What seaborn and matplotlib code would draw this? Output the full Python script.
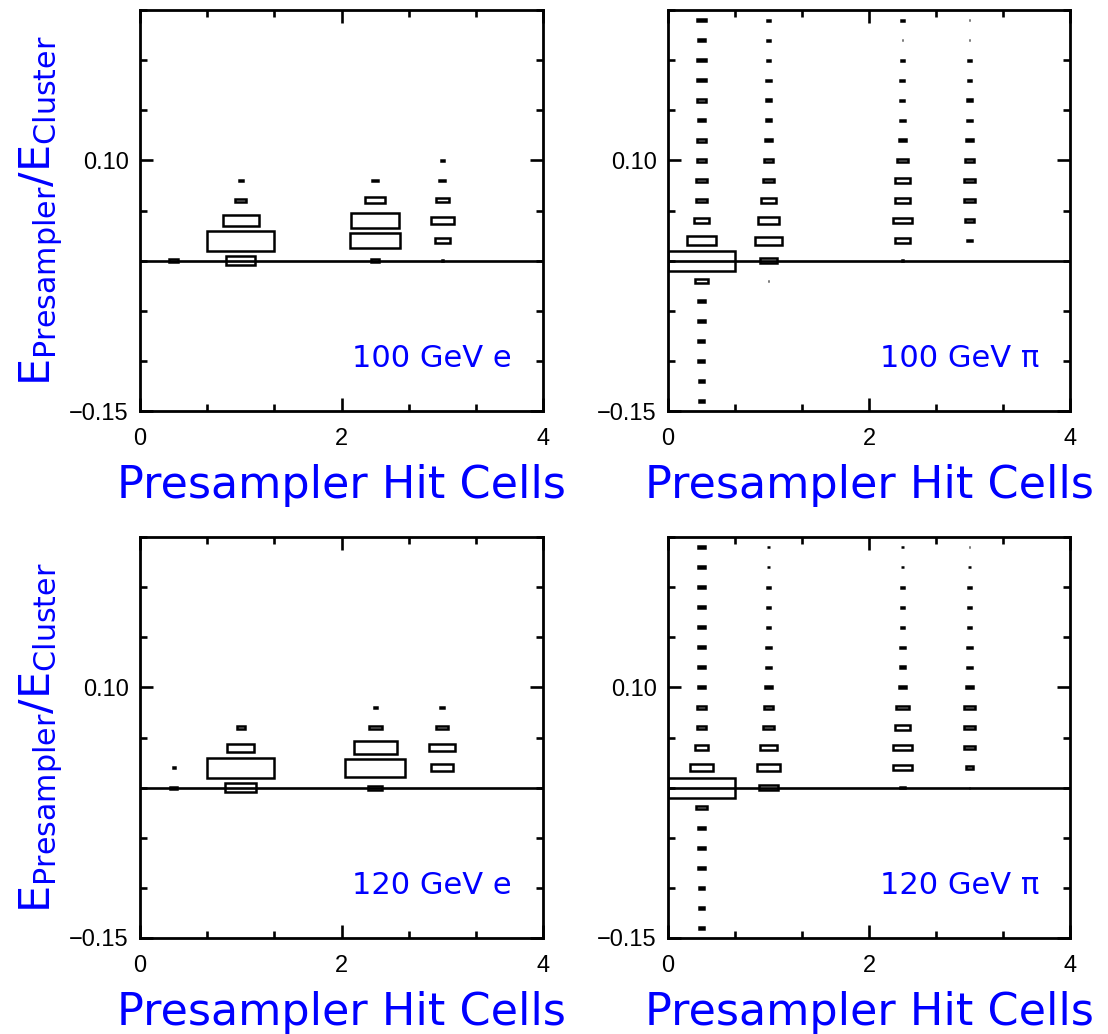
import numpy as np
import pandas as pd
import matplotlib
matplotlib.use("Agg")
import matplotlib.pyplot as plt
from matplotlib.ticker import FixedLocator, MultipleLocator
import seaborn as sns

# ---------------- data ----------------
# bin centres (y: E_presampler/E_cluster, x: presampler hit cells)
y_bins = [0.24, 0.22, 0.20, 0.18, 0.16, 0.14, 0.12, 0.10, 0.08, 0.06,
          0.04, 0.02, 0.00, -0.02, -0.04, -0.06, -0.08, -0.10, -0.12, -0.14]
x_cols = [0.333, 1.0, 2.333, 3.0]
x_tick_labels = ["0", "2", "4"]
y_tick_values = [-0.15, 0.10]
y_tick_labels = ["\u22120.15", "0.10"]

# relative box size (side length / full bin) for each x column, top to bottom
e100_c0 = [0, 0, 0, 0, 0, 0, 0, 0, 0, 0, 0, 0, 0.13, 0, 0, 0, 0, 0, 0, 0]
e100_c1 = [0, 0, 0, 0, 0, 0, 0, 0, 0.06, 0.165, 0.54, 1.0, 0.43, 0, 0, 0, 0, 0, 0, 0]
e100_c2 = [0, 0, 0, 0, 0, 0, 0, 0, 0.085, 0.30, 0.71, 0.75, 0.13, 0, 0, 0, 0, 0, 0, 0]
e100_c3 = [0, 0, 0, 0, 0, 0, 0, 0.04, 0.085, 0.20, 0.34, 0.23, 0.015, 0, 0, 0, 0, 0, 0, 0]

pi100_c0 = [0.13, 0.11, 0.13, 0.13, 0.13, 0.11, 0.13, 0.125, 0.16, 0.16,
            0.225, 0.44, 1.0, 0.185, 0.11, 0.11, 0.09, 0.09, 0.085, 0.085]
pi100_c1 = [0.05, 0.05, 0.05, 0.065, 0.08, 0.08, 0.095, 0.13, 0.17, 0.22,
            0.31, 0.40, 0.25, 0.01, 0, 0, 0, 0, 0, 0]
pi100_c2 = [0.05, 0.01, 0.05, 0.06, 0.06, 0.07, 0.11, 0.155, 0.21, 0.23,
            0.275, 0.23, 0.025, 0, 0, 0, 0, 0, 0, 0]
pi100_c3 = [0.01, 0.015, 0.05, 0.05, 0.075, 0.075, 0.115, 0.145, 0.165, 0.165,
            0.145, 0.075, 0, 0, 0, 0, 0, 0, 0, 0]

e120_c0 = [0, 0, 0, 0, 0, 0, 0, 0, 0, 0, 0, 0.03, 0.105, 0, 0, 0, 0, 0, 0, 0]
e120_c1 = [0, 0, 0, 0, 0, 0, 0, 0, 0, 0.125, 0.40, 1.0, 0.46, 0, 0, 0, 0, 0, 0, 0]
e120_c2 = [0, 0, 0, 0, 0, 0, 0, 0, 0.045, 0.195, 0.64, 0.90, 0.205, 0, 0, 0, 0, 0, 0, 0]
e120_c3 = [0, 0, 0, 0, 0, 0, 0, 0, 0.065, 0.185, 0.38, 0.33, 0, 0, 0, 0, 0, 0, 0, 0]

pi120_c0 = [0.11, 0.11, 0.11, 0.11, 0.11, 0.11, 0.11, 0.11, 0.145, 0.145,
            0.205, 0.345, 1.0, 0.16, 0.11, 0.10, 0.095, 0.085, 0.075, 0.075]
pi120_c1 = [0.04, 0.04, 0.05, 0.05, 0.05, 0.065, 0.075, 0.095, 0.125, 0.165,
            0.245, 0.345, 0.275, 0, 0, 0, 0, 0, 0, 0]
pi120_c2 = [0.04, 0.04, 0.04, 0.055, 0.055, 0.065, 0.085, 0.11, 0.185, 0.23,
            0.285, 0.285, 0.085, 0, 0, 0, 0, 0, 0, 0]
pi120_c3 = [0.01, 0.03, 0.04, 0.04, 0.04, 0.065, 0.075, 0.10, 0.155, 0.155,
            0.175, 0.115, 0.01, 0, 0, 0, 0, 0, 0, 0]

panel_labels = ["100 GeV e", "100 GeV \u03c0", "120 GeV e", "120 GeV \u03c0"]
panel_cols = [
    [e100_c0, e100_c1, e100_c2, e100_c3],
    [pi100_c0, pi100_c1, pi100_c2, pi100_c3],
    [e120_c0, e120_c1, e120_c2, e120_c3],
    [pi120_c0, pi120_c1, pi120_c2, pi120_c3],
]
x_title = "Presampler Hit Cells"
y_title = r"$\mathrm{E}_{\mathrm{Presampler}}/\mathrm{E}_{\mathrm{Cluster}}$"

# bin geometry
BIN_W = 2.0 / 3.0
BIN_H = 0.02

# --------------- build a table ---------------
rows = []
for p, cols in enumerate(panel_cols):
    for xc, col in zip(x_cols, cols):
        for yc, s in zip(y_bins, col):
            if s > 0:
                rows.append(dict(panel=p, x=xc, y=yc, size=s))
df = pd.DataFrame(rows)

# --------------- style ---------------
sns.set_theme(style="ticks")
plt.rcParams["font.family"] = ["DejaVu Sans"]
plt.rcParams["mathtext.fontset"] = "dejavusans"
BLUE = "#0000ff"
TICK_FONT = ["Liberation Sans", "DejaVu Sans"]

W, H = 1108, 1034
fig = plt.figure(figsize=(W / 100, H / 100), dpi=100)
fig.patch.set_facecolor("white")

# axes pixel boxes (left, top, right, bottom)
boxes = [(140, 10, 543, 411), (668, 10, 1070, 411),
         (140, 537, 543, 938), (668, 537, 1070, 938)]

for p, (l, t, r, b) in enumerate(boxes):
    ax = fig.add_axes([l / W, 1 - b / H, (r - l) / W, (b - t) / H])
    ax.set_facecolor("white")
    sub = df[df.panel == p]
    ax.bar(sub.x, sub["size"] * BIN_H, width=sub["size"] * BIN_W,
           bottom=sub.y - sub["size"] * BIN_H / 2, fill=False,
           edgecolor="black", linewidth=1.8, align="center", zorder=3)
    ax.axhline(0, color="black", lw=1.9, zorder=2)
    ax.set_xlim(0, 4)
    ax.set_ylim(-0.15, 0.25)
    ax.xaxis.set_major_locator(FixedLocator([0, 2, 4]))
    ax.xaxis.set_minor_locator(MultipleLocator(2 / 3))
    ax.set_xticklabels(x_tick_labels, fontsize=17, family=TICK_FONT,
                       color="black")
    ax.yaxis.set_major_locator(FixedLocator(y_tick_values))
    ax.yaxis.set_minor_locator(MultipleLocator(0.05))
    ax.set_yticklabels(y_tick_labels, fontsize=17, family=TICK_FONT,
                       color="black")
    for sp in ax.spines.values():
        sp.set_visible(True)
        sp.set_linewidth(2.0)
        sp.set_color("black")
    ax.tick_params(which="both", direction="in", top=True, right=True,
                   width=1.9, color="black", labelcolor="black")
    ax.tick_params(which="major", length=9.5)
    ax.tick_params(which="minor", length=4.8)
    ax.tick_params(axis="x", which="major", pad=12)
    ax.tick_params(axis="y", which="major", pad=8)
    ax.text(0.923, 0.132, panel_labels[p], transform=ax.transAxes,
            ha="right", va="center", fontsize=22, color=BLUE)
    # x title
    fig.text((l + r) / 2 / W, 1 - (b + 75) / H, x_title, ha="center",
             va="center", fontsize=32, color=BLUE)
    if p in (0, 2):
        fig.text(41 / W, 1 - ((t + b) / 2) / H, y_title, rotation=90,
                 ha="center", va="center", fontsize=31, color=BLUE)

fig.savefig("out.png", dpi=100, facecolor="white")
